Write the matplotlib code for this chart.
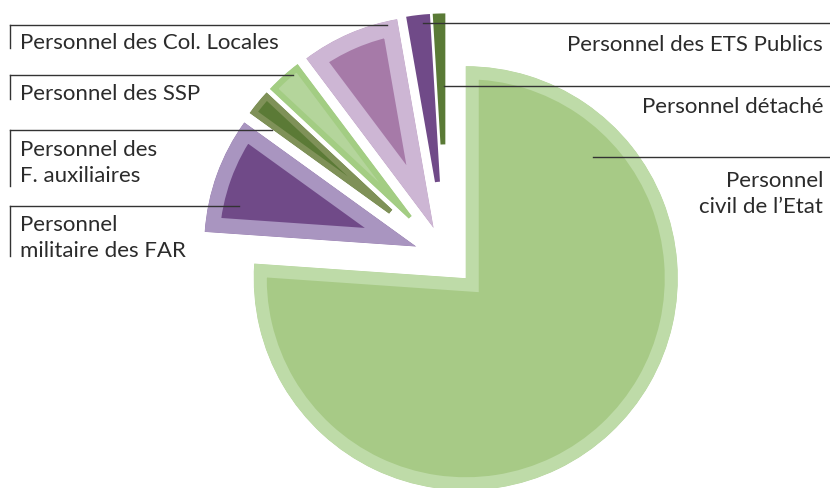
import matplotlib
matplotlib.use("Agg")
import matplotlib.pyplot as plt

# slices, clockwise from 12 o'clock (percent of staff)
labels = ["Personnel civil de l'Etat", "Personnel militaire des FAR",
          "Personnel des F. auxiliaires", "Personnel des SSP",
          "Personnel des Col. Locales", "Personnel détaché",
          "Personnel des ETS Publics"]
shares = [76.1, 8.85, 2.0, 2.8, 7.5, 1.8, 0.95]

fills = ["#a7ca86", "#704a88", "#5b7a36", "#b4d59b", "#a67aa8", "#704a88", "#5a7a36"]
borders = ["#bedba8", "#a995c0", "#7f9158", "#a3cd83", "#cdb6d4", "#704a88", "#5a7a36"]
band = [13, 15, 6, 6, 16, 0, 0]          # inner border width, px
explode = [28.5, 32, 32, 32, 32, 32, 32]  # px
ring = [None, None, 172, 190, None, 168, 131]   # truncated tips

W, H = 830, 489
R = 212
cx, cy = 446.3, 258.4


def fy(y):
    return H - y


fig = plt.figure(figsize=(W / 100, H / 100), dpi=100)
ax = fig.add_axes([0, 0, 1, 1])

wedges, _ = ax.pie(shares, colors=fills, explode=explode, startangle=90,
                   counterclock=False, radius=R, center=(cx, fy(cy)),
                   frame=True)
ax.set_xlim(0, W)
ax.set_ylim(0, H)
ax.set_aspect("equal")
ax.axis("off")

for w, b, ec, rw in zip(wedges, band, borders, ring):
    if rw is not None:
        w.set_width(rw)
    if b > 0:
        w.set_edgecolor(ec)
        w.set_linewidth(2 * b * 0.72)
        w.set_joinstyle("miter")
        w.set_clip_on(True)
        w.set_clip_path(w)
    else:
        w.set_linewidth(0)

# leader lines and labels
lc = "#333333"
tc = "#2b2b2b"
fs = 16
font = "Lato"

left = [
    (26, 49, 387, ["Personnel des Col. Locales"], 49),
    (76, 100, 293, ["Personnel des SSP"], 100),
    (131, 187, 272, ["Personnel des", "F. auxiliaires"], 156),
    (207, 257, 239, ["Personnel", "militaire des FAR"], 231),
]
for y0, y1, xend, lines, base in left:
    ax.plot([10, xend], [fy(y0), fy(y0)], color=lc, lw=1.0)
    ax.plot([10, 10], [fy(y0), fy(y1)], color=lc, lw=1.0)
    for i, s in enumerate(lines):
        ax.text(20, fy(base + 26 * i), s, fontsize=fs, family=font,
                color=tc, ha="left", va="baseline")

right = [
    (24, 423, ["Personnel des ETS Publics"], 51),
    (87, 444, ["Personnel détaché"], 113),
    (158, 593, ["Personnel", "civil de l\u2019Etat"], 187),
]
for y0, xstart, lines, base in right:
    ax.plot([xstart, W], [fy(y0), fy(y0)], color=lc, lw=1.0)
    for i, s in enumerate(lines):
        ax.text(823, fy(base + 26 * i), s, fontsize=fs, family=font,
                color=tc, ha="right", va="baseline")

fig.savefig("out.png", dpi=100)
